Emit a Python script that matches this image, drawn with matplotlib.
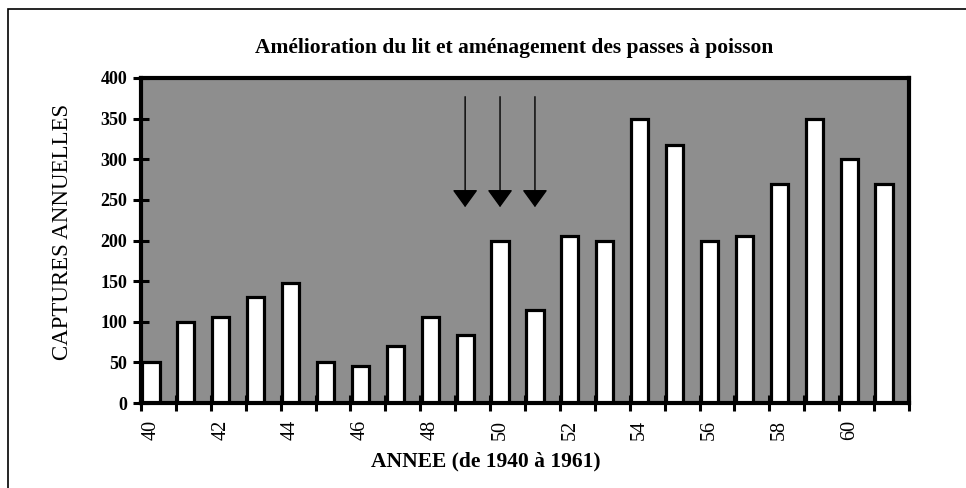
import numpy as np
import matplotlib
matplotlib.use("Agg")
import matplotlib.pyplot as plt
from matplotlib.patches import Rectangle

# annual catches, 1940-1961
years = list(range(1940, 1962))
captures = [50, 100, 106, 130, 148, 50, 45, 70, 106, 84, 200,
            114, 206, 200, 350, 318, 200, 206, 270, 350, 300, 270]

# works on the river bed / fish passes
work_years = [1949, 1950, 1951]
arrow_top = 377
arrow_tip = 241

y_ticks = list(range(0, 401, 50))

title = "Amélioration du lit et aménagement des passes à poisson"
xlabel = "ANNEE (de 1940 à 1961)"
ylabel = "CAPTURES ANNUELLES"

plt.rcParams["font.family"] = ["Liberation Serif", "DejaVu Serif"]

fig = plt.figure(figsize=(9.66, 4.88), dpi=100)
ax = fig.add_axes([141 / 966, 85 / 488, 768 / 966, 325 / 488])
ax.set_facecolor("#8e8e8e")

# one slot per year, bar sits at the left side of its slot
slot = np.arange(len(years))
bar_w = 0.49
bar_x = slot + 0.04
centers = bar_x + bar_w / 2
ax.bar(bar_x, captures, width=bar_w, align="edge", color="white",
       edgecolor="black", linewidth=2.3, zorder=2)

for yr in work_years:
    i = years.index(yr)
    ax.annotate("", xy=(centers[i], arrow_tip), xytext=(centers[i], arrow_top),
                arrowprops=dict(arrowstyle="-|>,head_length=0.55,head_width=0.4",
                                mutation_scale=20, color="black", lw=1.0,
                                shrinkA=0, shrinkB=0), zorder=3)

ax.set_xlim(0, len(years))
ax.set_ylim(0, 400)

# tick marks on slot boundaries, labels under every other bar
ax.set_xticks(np.arange(len(years) + 1))
ax.set_xticklabels([])
ax.set_xticks(centers[::2], minor=True)
ax.set_xticklabels([str(y)[2:] for y in years[::2]], minor=True,
                   rotation=90, fontsize=14.5)
ax.tick_params(axis="x", which="major", direction="inout", length=11, width=2.2)
ax.tick_params(axis="x", which="minor", length=0, pad=12)

ax.set_yticks(y_ticks)
ax.set_yticklabels([str(v) for v in y_ticks], fontsize=13, fontweight="bold")
ax.tick_params(axis="y", direction="inout", length=12, width=2.2, pad=4)

for sp in ax.spines.values():
    sp.set_linewidth(3)
    sp.set_zorder(4)

fig.text(514 / 966, 1 - 48 / 488, title, ha="center", va="center",
         fontsize=15.5, fontweight="bold")
fig.text(486 / 966, 1 - 461 / 488, xlabel, ha="center", va="center",
         fontsize=15.5, fontweight="bold")
fig.text(62 / 966, 1 - 232 / 488, ylabel, ha="center", va="center",
         rotation=90, fontsize=16.5)

# outer frame, runs off the right and bottom edges
fig.patches.append(Rectangle((8 / 966, -0.1), 1.2, 1.1 - 9 / 488,
                             transform=fig.transFigure, fill=False,
                             edgecolor="black", linewidth=1.2))

fig.savefig("out.png", dpi=100)
